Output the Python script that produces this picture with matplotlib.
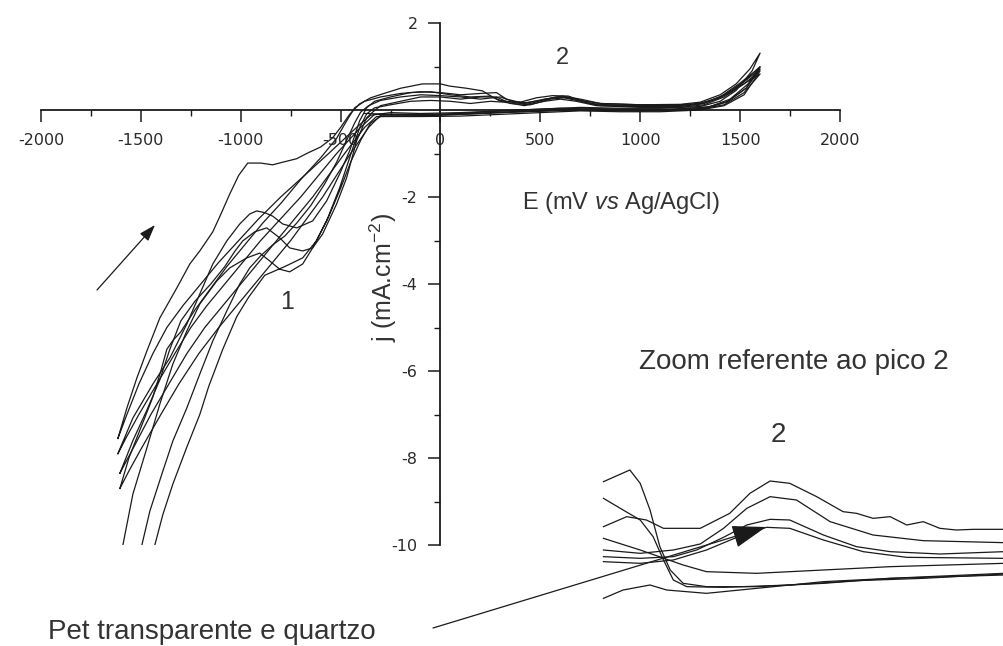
import matplotlib
matplotlib.use("Agg")
import matplotlib.pyplot as plt
from matplotlib.patches import FancyArrowPatch

# ---- main voltammograms: E (mV vs Ag/AgCl), j (mA/cm2) ----
c1_e = [-1615, -1570, -1520, -1470, -1405, -1320, -1255, -1205, -1140, -1100, -1055, -1010, -965, -900, -840,
        -790, -720, -670, -600, -540, -500, -455, -405, -350, -290, -200, -90, 0, 45, 130, 210, 260, 300, 400,
        480, 560, 640, 700, 800, 1000, 1200, 1300, 1400, 1480, 1550, 1600,
        1560, 1480, 1400, 1300, 1100, 900, 700, 500, 300, 100, -100, -250, -350,
        -420, -560, -680, -800, -910, -1010, -1110, -1200, -1290, -1370, -1440, -1510, -1570, -1615]
c1_j = [-7.55, -6.85, -6.16, -5.54, -4.78, -4.09, -3.54, -3.24, -2.8, -2.4, -1.93, -1.5, -1.22, -1.22, -1.26,
        -1.2, -1.12, -1.0, -0.85, -0.64, -0.4, -0.1, 0.14, 0.28, 0.37, 0.5, 0.6, 0.6, 0.55, 0.5, 0.44, 0.3, 0.2, 0.18,
        0.28, 0.33, 0.32, 0.22, 0.15, 0.12, 0.13, 0.18, 0.35, 0.6, 0.95, 1.31,
        0.9, 0.45, 0.2, 0.08, 0.04, 0.04, 0.06, 0.02, -0.02, -0.06, -0.08, -0.06, -0.12,
        -0.4, -1.0, -1.5, -2.0, -2.5, -3.0, -3.5, -4.0, -4.5, -5.0, -5.6, -6.3, -7.0, -7.55]

c2_e = [-1615, -1540, -1440, -1355, -1270, -1205, -1140, -1070, -1005, -955, -920, -880, -840, -790, -720,
        -640, -570, -505, -455, -405, -370, -330, -250, -150, -50, 50, 150, 250, 300, 400, 500, 580, 650, 750,
        900, 1100, 1250, 1350, 1450, 1530, 1600,
        1540, 1450, 1350, 1200, 1000, 800, 600, 400, 200, 0, -200, -330,
        -400, -520, -610, -700, -800, -900, -990, -1080, -1170, -1250, -1330, -1420, -1510, -1570, -1615]
c2_j = [-7.9, -7.08, -6.3, -5.7, -4.92, -4.23, -3.54, -3.01, -2.62, -2.39, -2.32, -2.36, -2.44, -2.62, -2.71,
        -2.55, -2.09, -1.47, -0.94, -0.25, 0.05, 0.2, 0.3, 0.4, 0.42, 0.35, 0.3, 0.32, 0.22, 0.15, 0.22, 0.3, 0.28,
        0.15, 0.1, 0.1, 0.12, 0.2, 0.4, 0.7, 1.0,
        0.6, 0.25, 0.08, 0.02, 0.0, 0.02, 0.04, 0.0, -0.05, -0.1, -0.1, -0.1,
        -0.4, -1.0, -1.5, -2.0, -2.5, -3.0, -3.5, -4.0, -4.5, -5.0, -5.6, -6.3, -7.0, -7.5, -7.9]

c3_e = [-1605, -1540, -1470, -1405, -1355, -1300, -1230, -1150, -1080, -1030, -990, -930, -870, -805, -755,
        -690, -640, -590, -520, -470, -420, -370, -340, -300, -200, -100, 0, 100, 200, 280, 350, 450, 550, 620,
        700, 800, 1000, 1200, 1320, 1420, 1520, 1600,
        1530, 1440, 1340, 1200, 1000, 800, 600, 400, 200, 0, -200, -320,
        -380, -480, -560, -640, -730, -820, -910, -1000, -1090, -1180, -1270, -1360, -1450, -1530, -1605]
c3_j = [-8.35, -7.6, -6.9, -6.2, -5.5, -4.85, -4.4, -4.0, -3.6, -3.25, -3.01, -2.8, -2.71, -2.94, -3.17,
        -3.24, -3.17, -2.85, -2.16, -1.56, -0.71, -0.18, -0.05, 0.1, 0.2, 0.3, 0.3, 0.25, 0.3, 0.3, 0.15, 0.12,
        0.25, 0.28, 0.2, 0.1, 0.08, 0.08, 0.15, 0.35, 0.65, 0.94,
        0.5, 0.2, 0.05, 0.0, -0.02, 0.0, 0.0, -0.04, -0.08, -0.12, -0.14, -0.15,
        -0.4, -1.0, -1.5, -2.0, -2.5, -3.0, -3.5, -4.0, -4.5, -5.0, -5.6, -6.3, -7.0, -7.7, -8.35]

c4_e = [-1605, -1560, -1500, -1440, -1400, -1370, -1340, -1300, -1230, -1150, -1070, -980, -890, -800, -700,
        -600, -520, -470, -430, -380, -300, -200, -100, 0, 100, 200, 280, 330, 420, 520, 600, 680, 780, 1000,
        1200, 1300, 1400, 1500, 1600,
        1520, 1420, 1300, 1100, 900, 700, 500, 300, 100, -100, -300,
        -360, -450, -520, -590, -670, -750, -840, -930, -1020, -1110, -1210, -1310, -1400, -1500, -1560, -1605]
c4_j = [-8.7, -8.0, -7.3, -6.6, -6.0, -5.5, -5.3, -5.1, -4.6, -4.1, -3.6, -3.1, -2.6, -2.15, -1.6,
        -1.1, -0.65, -0.25, 0.05, 0.2, 0.3, 0.38, 0.42, 0.4, 0.35, 0.38, 0.4, 0.25, 0.15, 0.25, 0.3, 0.25, 0.12,
        0.1, 0.1, 0.14, 0.28, 0.55, 0.83,
        0.4, 0.12, 0.02, -0.02, -0.02, 0.0, -0.03, -0.06, -0.1, -0.12, -0.12,
        -0.4, -1.0, -1.5, -2.0, -2.5, -3.0, -3.5, -4.0, -4.5, -5.0, -5.6, -6.3, -7.0, -7.8, -8.3, -8.7]

c5_e = [-1590, -1540, -1470, -1405, -1340, -1270, -1205, -1120, -1055, -970, -905, -855, -805, -755, -690,
        -640, -570, -505, -455, -405, -370, -330, -250, -150, -50, 50, 150, 250, 320, 420, 520, 600, 680, 780,
        1000, 1200, 1320, 1420, 1520, 1600,
        1520, 1420, 1300, 1100, 900, 700, 500, 300, 100, -100, -300,
        -350, -400, -450, -500, -560, -620, -690, -780, -880, -960, -1020, -1090, -1160, -1205, -1270, -1340,
        -1390, -1430]
c5_j = [-10.0, -8.83, -7.77, -6.76, -5.84, -5.08, -4.46, -3.93, -3.63, -3.4, -3.29, -3.47, -3.66, -3.72, -3.54,
        -3.17, -2.55, -1.79, -1.1, -0.41, -0.09, 0.05, 0.12, 0.2, 0.22, 0.2, 0.15, 0.2, 0.18, 0.1, 0.2, 0.25, 0.2,
        0.1, 0.06, 0.06, 0.12, 0.3, 0.6, 0.9,
        0.35, 0.1, 0.0, -0.04, -0.04, -0.02, -0.06, -0.1, -0.14, -0.15, -0.15,
        -0.3, -0.7, -1.2, -1.8, -2.45, -3.0, -3.4, -3.6, -3.8, -4.3, -4.75, -5.5, -6.35, -7.0, -7.75, -8.6,
        -9.3, -10.0]

c6_e = [-1495, -1455, -1395, -1340, -1270, -1205, -1140, -1070, -1005, -955, -900, -840, -780, -720, -650,
        -580, -520, -470, -430, -400, -360, -300, -200, -100, 0, 100, 200, 300, 360, 450, 530, 610, 700, 800,
        1000, 1200, 1300, 1400, 1500, 1600,
        1530, 1430, 1330, 1150, 950, 750, 550, 350, 150, -50, -250, -380]
c6_j = [-10.0, -9.22, -8.37, -7.61, -6.85, -6.07, -5.31, -4.62, -4.0, -3.63, -3.35, -3.1, -2.9, -2.6, -2.2,
        -1.7, -1.2, -0.7, -0.3, -0.05, 0.1, 0.22, 0.3, 0.35, 0.33, 0.3, 0.25, 0.3, 0.2, 0.15, 0.25, 0.32, 0.25,
        0.15, 0.12, 0.12, 0.15, 0.3, 0.62, 0.98,
        0.5, 0.18, 0.06, 0.02, 0.02, 0.03, 0.0, -0.04, -0.08, -0.1, -0.1, -0.08]

cycles = [(c1_e, c1_j), (c2_e, c2_j), (c3_e, c3_j), (c4_e, c4_j), (c5_e, c5_j), (c6_e, c6_j)]

# ---- zoom on peak 2 (inset) ----
z1_e = [326, 371, 409, 442, 513, 570, 609, 648, 686, 738, 789, 815, 847, 880, 912, 944, 976, 1008, 1041, 1100]
z1_j = [0.250, 0.280, 0.270, 0.245, 0.245, 0.290, 0.350, 0.387, 0.380, 0.340, 0.295, 0.290, 0.275, 0.280,
        0.255, 0.265, 0.245, 0.240, 0.242, 0.242]
z2_e = [326, 397, 461, 513, 558, 603, 648, 699, 764, 847, 944, 1100]
z2_j = [0.180, 0.170, 0.180, 0.198, 0.245, 0.305, 0.340, 0.330, 0.265, 0.225, 0.208, 0.202]
z3_e = [326, 397, 461, 506, 558, 603, 648, 686, 751, 815, 880, 976, 1100]
z3_j = [0.160, 0.155, 0.160, 0.180, 0.218, 0.255, 0.272, 0.270, 0.225, 0.190, 0.175, 0.168, 0.175]
z4_e = [326, 397, 461, 525, 590, 641, 686, 751, 828, 912, 1100]
z4_j = [0.145, 0.140, 0.150, 0.180, 0.222, 0.248, 0.245, 0.210, 0.175, 0.158, 0.155]
z5_e = [326, 377, 397, 416, 435, 455, 480, 525, 622, 751, 880, 1100]
z5_j = [0.385, 0.420, 0.380, 0.300, 0.190, 0.120, 0.080, 0.070, 0.070, 0.080, 0.095, 0.110]
z6_e = [326, 364, 397, 422, 442, 461, 487, 558, 686, 815, 944, 1100]
z6_j = [0.335, 0.300, 0.270, 0.220, 0.150, 0.090, 0.070, 0.068, 0.075, 0.088, 0.095, 0.108]
z7_e = [326, 397, 480, 525, 622, 751, 880, 1100]
z7_j = [0.215, 0.180, 0.135, 0.115, 0.110, 0.120, 0.130, 0.140]
z8_e = [326, 364, 416, 448, 525, 622, 751, 880, 1100]
z8_j = [0.035, 0.060, 0.075, 0.060, 0.050, 0.065, 0.085, 0.095, 0.105]

zoom_curves = [(z1_e, z1_j), (z2_e, z2_j), (z3_e, z3_j), (z4_e, z4_j),
               (z5_e, z5_j), (z6_e, z6_j), (z7_e, z7_j), (z8_e, z8_j)]

x_major = [-2000, -1500, -1000, -500, 0, 500, 1000, 1500, 2000]
x_labels = ["-2000", "-1500", "-1000", "-500", "0", "500", "1000", "1500", "2000"]
x_minor = [-1750, -1250, -750, -250, 250, 750, 1250, 1750]
y_major = [-10, -8, -6, -4, -2, 2]
y_labels = ["-10", "-8", "-6", "-4", "-2", "2"]
y_minor = [-9, -7, -5, -3, -1, 1]

plt.rcParams['font.family'] = ['Liberation Sans', 'DejaVu Sans']
plt.rcParams['axes.unicode_minus'] = False
plt.rcParams['mathtext.fontset'] = 'custom'
plt.rcParams['mathtext.rm'] = 'Liberation Sans'
plt.rcParams['mathtext.it'] = 'Liberation Sans:italic'

W, H = 1004, 646
ink = '#1a1a1a'
txt = '#333333'

fig = plt.figure(figsize=(W / 100, H / 100), dpi=100)
ax = fig.add_axes([41 / W, 101 / H, 799 / W, 522 / H])

for e, j in cycles:
    ax.plot(e, j, color=ink, lw=0.9)

ax.set_xlim(-2000, 2000)
ax.set_ylim(-10, 2)
ax.spines['left'].set_position(('data', 0))
ax.spines['bottom'].set_position(('data', 0))
ax.spines['top'].set_visible(False)
ax.spines['right'].set_visible(False)
for s in ('left', 'bottom'):
    ax.spines[s].set_linewidth(1.3)
    ax.spines[s].set_color(ink)

ax.set_xticks(x_major)
ax.set_xticklabels(x_labels)
ax.set_xticks(x_minor, minor=True)
ax.set_yticks(y_major)
ax.set_yticklabels(y_labels)
ax.set_yticks(y_minor, minor=True)
ax.tick_params(which='major', direction='out', length=8.5, width=1.1, pad=8,
               labelsize=11.5, labelcolor='#2a2a2a', color=ink)
ax.tick_params(which='minor', direction='out', length=4.5, width=1.0, color=ink)
for lbl in ax.get_xticklabels() + ax.get_yticklabels():
    lbl.set_family('DejaVu Sans')

# inset with the zoom on peak 2
ins = fig.add_axes([590 / W, 36 / H, 414 / W, 160 / H])
ins.axis('off')
for e, j in zoom_curves:
    ins.plot(e, j, color=ink, lw=0.9)
ins.set_xlim(300, 1100)
ins.set_ylim(0, 0.48)

# labels
fig.text(522 / W, 1 - 203 / H, r"E (mV $\mathit{vs}$ Ag/AgCl)", fontsize=17, color=txt,
         ha='left', va='center')
fig.text(383 / W, 1 - 278 / H, r"j (mA.cm$^{-2}$)", fontsize=18, color=txt,
         rotation=90, ha='center', va='center')
fig.text(287 / W, 1 - 302 / H, "1", fontsize=18, color=txt, ha='center', va='center')
fig.text(562 / W, 1 - 58 / H, "2", fontsize=17, color=txt, ha='center', va='center')
fig.text(794 / W, 1 - 362 / H, "Zoom referente ao pico 2", fontsize=20, color=txt,
         ha='center', va='center')
fig.text(778 / W, 1 - 435 / H, "2", fontsize=20, color=txt, ha='center', va='center')
fig.text(48 / W, 1 - 632 / H, "Pet transparente e quartzo", fontsize=20, color=txt,
         ha='left', va='center')

# arrows
fig.add_artist(FancyArrowPatch((97 / W, 1 - 290 / H), (155 / W, 1 - 225 / H),
                               transform=fig.transFigure, arrowstyle='-|>,head_length=0.5,head_width=0.17',
                               mutation_scale=20, color=ink, lw=0.9, shrinkA=0, shrinkB=0))
fig.add_artist(FancyArrowPatch((433 / W, 1 - 628 / H), (766 / W, 1 - 527 / H),
                               transform=fig.transFigure, arrowstyle='-|>,head_length=0.9,head_width=0.3',
                               mutation_scale=24, color=ink, lw=0.9, shrinkA=0, shrinkB=0))

fig.savefig("out.png", dpi=100, facecolor='white')
